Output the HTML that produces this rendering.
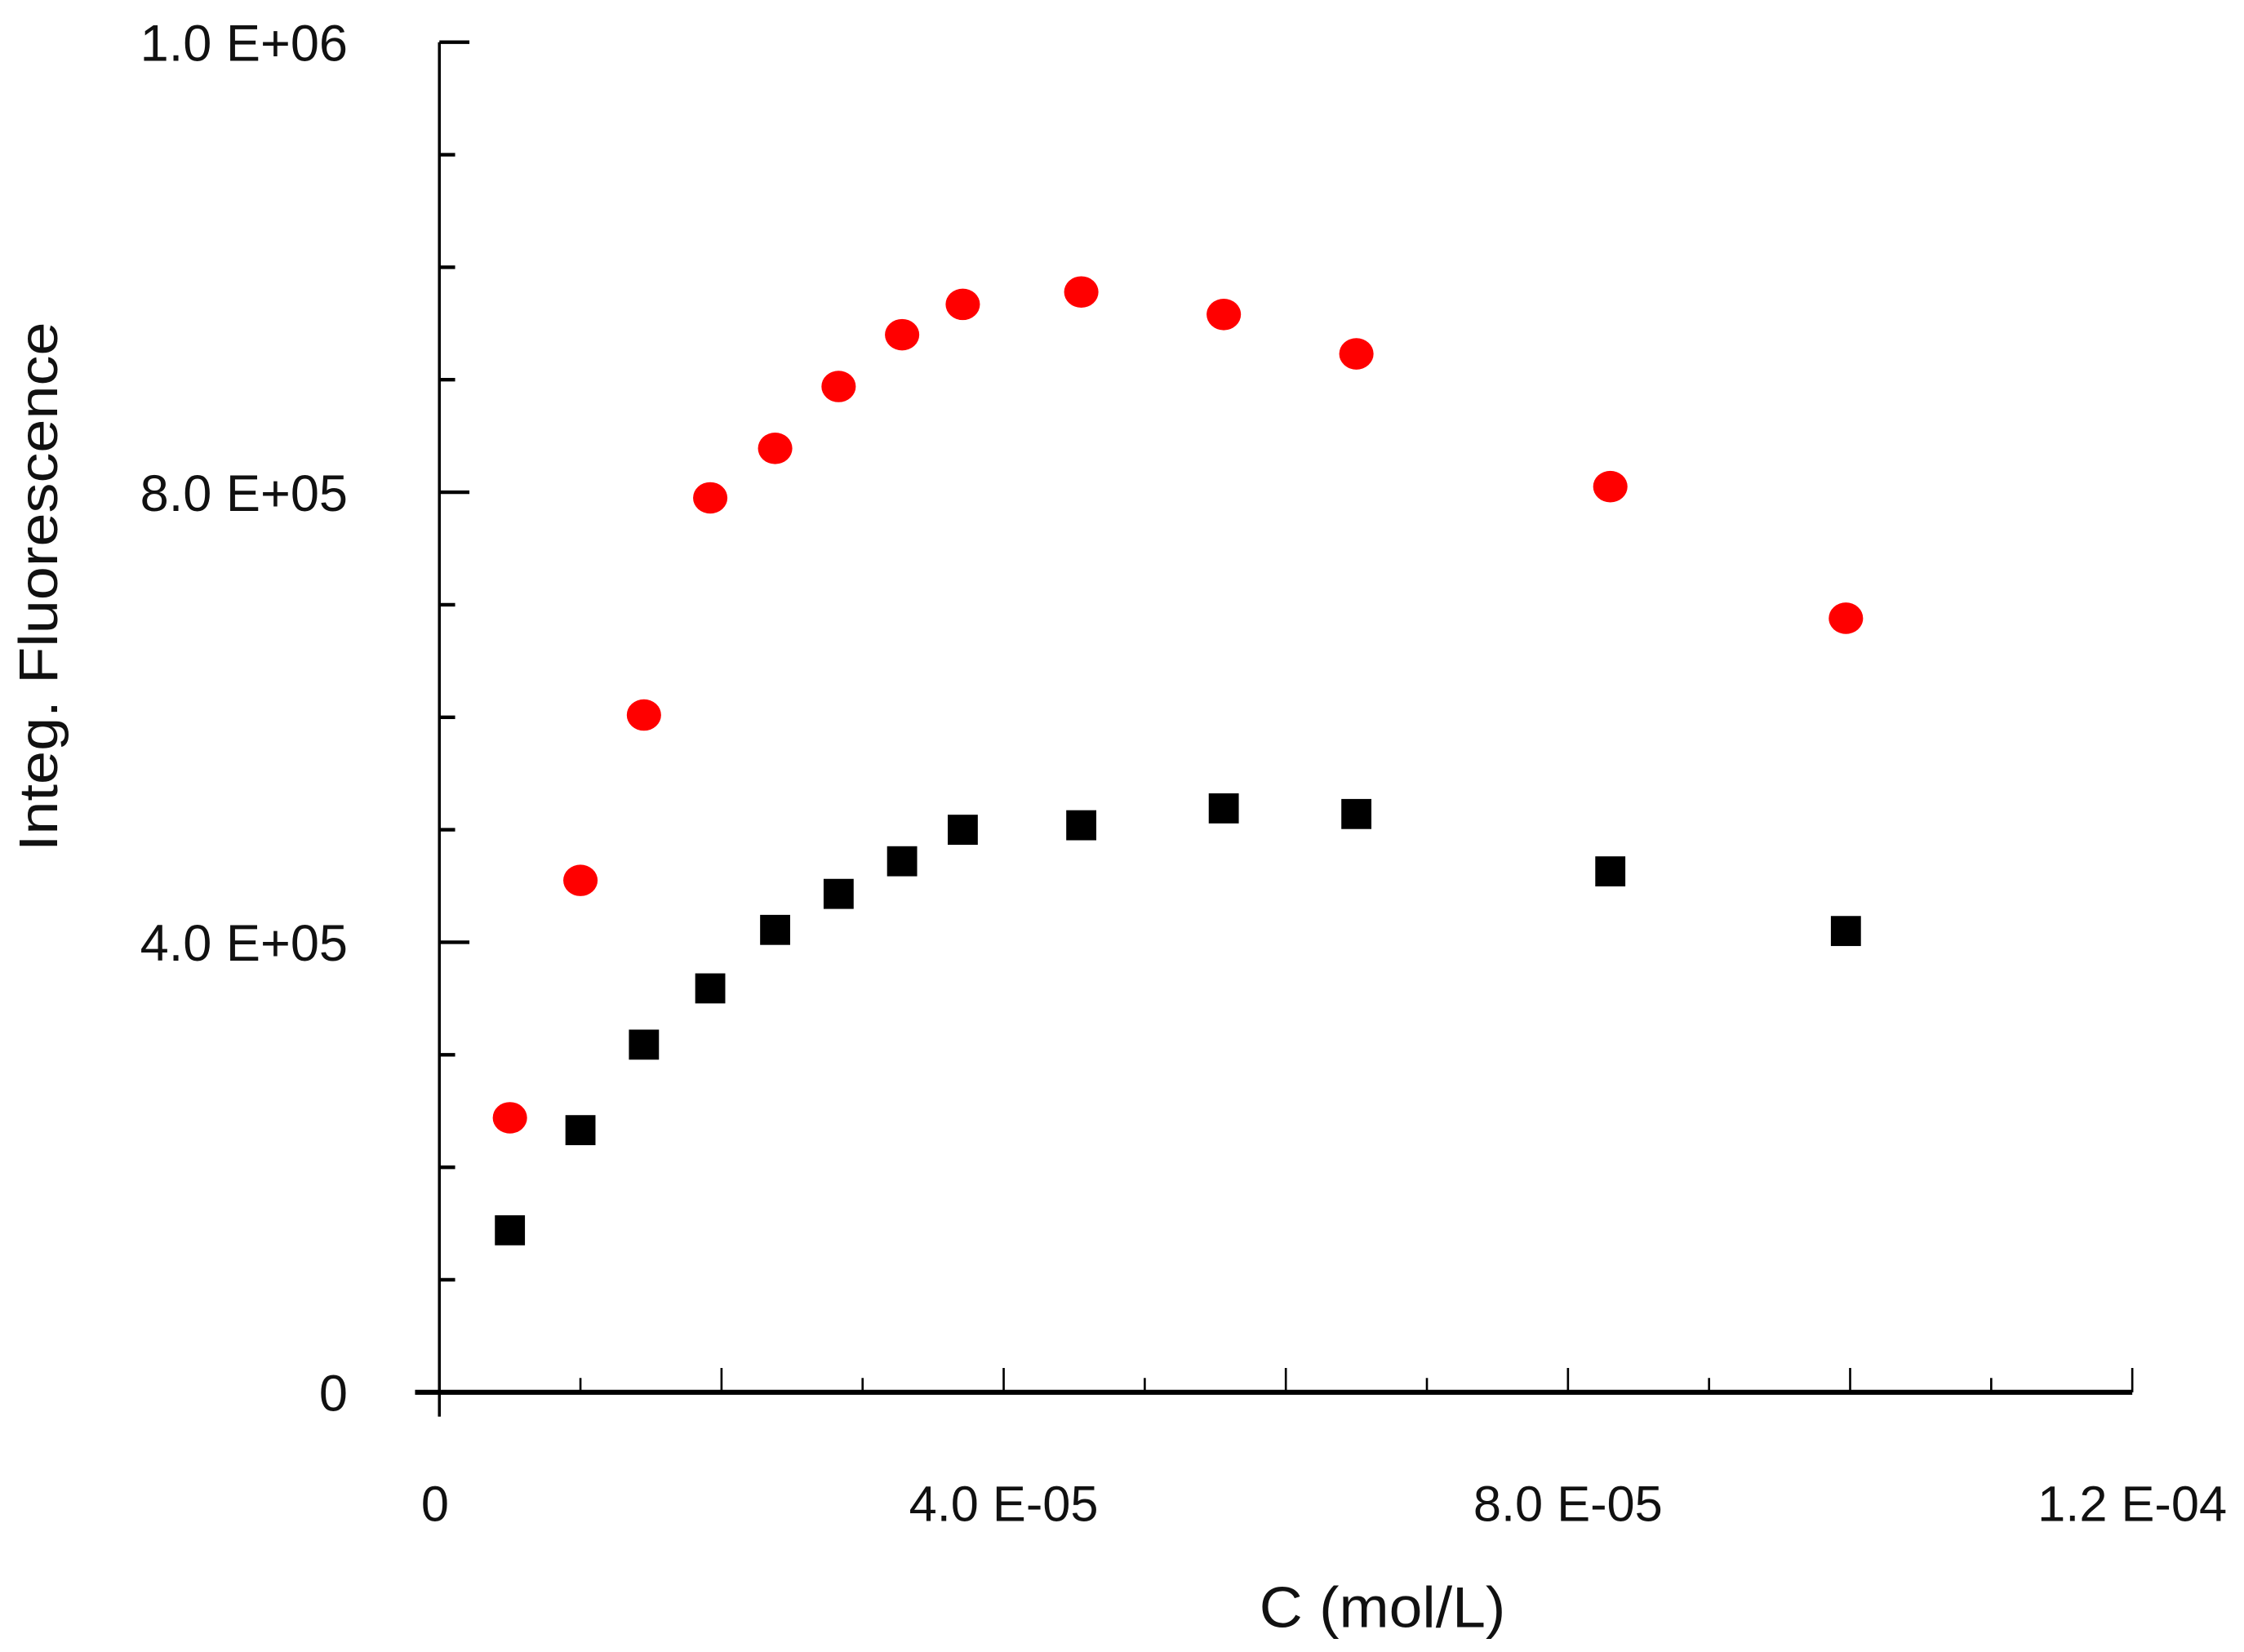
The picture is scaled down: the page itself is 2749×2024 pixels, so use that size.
<!DOCTYPE html>
<html><head><meta charset="utf-8"><style>html,body{margin:0;padding:0;background:#fff}svg{display:block}text{font-family:"Liberation Sans",sans-serif;fill:#111}</style></head>
<body>
<svg id="chart" width="2749" height="2024" viewBox="0 0 1568 1154.5" xmlns="http://www.w3.org/2000/svg">
<g id="axes"></g>
<g id="marks"></g>
<text x="966" y="1137" font-size="40" text-anchor="middle" textLength="172" lengthAdjust="spacingAndGlyphs">C (mol/L)</text>
<text transform="translate(40,410) rotate(-90)" font-size="38" text-anchor="middle" textLength="370" lengthAdjust="spacingAndGlyphs">Integ. Fluorescence</text>
</svg>
<script>
const xValues = [5.0e-6, 1.0e-5, 1.45e-5, 1.92e-5, 2.38e-5, 2.83e-5, 3.28e-5, 3.71e-5, 4.55e-5, 5.56e-5, 6.5e-5, 8.3e-5, 9.97e-5];
const redValues = [2.44e5, 4.55e5, 6.02e5, 7.95e5, 8.39e5, 8.94e5, 9.40e5, 9.67e5, 9.78e5, 9.58e5, 9.23e5, 8.05e5, 6.88e5];
const blackValues = [1.44e5, 2.33e5, 3.09e5, 3.59e5, 4.11e5, 4.43e5, 4.72e5, 5.00e5, 5.04e5, 5.19e5, 5.14e5, 4.63e5, 4.10e5];
const yTickValues = [0, 4e5, 8e5, 1.2e6];
const yTickLabels = ["0", "4.0 E+05", "8.0 E+05", "1.0 E+06"];
const xTickValues = [0, 4e-5, 8e-5, 1.2e-4];
const xTickLabels = ["0", "4.0 E-05", "8.0 E-05", "1.2 E-04"];

const NS = "http://www.w3.org/2000/svg";
const X0 = 307, XPX = 985.8e4;
const Y0 = 973, YPX = 786.25e-6;
function sx(v){ return X0 + v * XPX; }
function sy(v){ return Y0 - v * YPX; }
function mk(tag, attrs, parent){
  const e = document.createElementNS(NS, tag);
  for (const k in attrs) e.setAttribute(k, attrs[k]);
  parent.appendChild(e);
  return e;
}
const axes = document.getElementById('axes');
const marks = document.getElementById('marks');

let el = mk('line', {x1: X0, y1: sy(1.2e6), x2: X0, y2: 990, stroke: '#000', 'stroke-width': 2}, axes);


el = mk('line', {x1: 290, y1: Y0, x2: sx(1.2e-4), y2: Y0, stroke: '#000', 'stroke-width': 3.5}, axes);



for (let i = 0; i <= 12; i++) {
  const v = i * 1e5;
  const major = (i % 4 === 0);
  const t = mk('line', {x1: X0, y1: sy(v), x2: X0 + (major ? 21 : 11), y2: sy(v), stroke: '#000', 'stroke-width': 2.5}, axes);
  
  
}
for (let i = 1; i <= 12; i++) {
  const v = i * 1e-5;
  const major = (i % 2 === 0);
  const t = mk('line', {x1: sx(v), y1: Y0, x2: sx(v), y2: Y0 - (major ? 17 : 10), stroke: '#000', 'stroke-width': 1.5}, axes);
  
  
}
yTickValues.forEach((v, i) => {
  const t = mk('text', {x: 243, y: sy(v) + 13, 'font-size': 36, 'text-anchor': 'end'}, axes);
  t.textContent = yTickLabels[i];
  
  
});
xTickValues.forEach((v, i) => {
  const t = mk('text', {x: sx(v) - (i === 0 ? 3 : 0), y: 1063, 'font-size': 35, 'text-anchor': 'middle'}, axes);
  t.textContent = xTickLabels[i];
  
  
});
xValues.forEach((x, i) => {
  const s = mk('rect', {x: sx(x) - 10.5, y: sy(blackValues[i]) - 10.5, width: 21, height: 21, fill: '#000'}, marks);
  
  
  const c = mk('ellipse', {cx: sx(x), cy: sy(redValues[i]), rx: 12, ry: 11, fill: '#f00'}, marks);
  
  
});
</script>
</body></html>
